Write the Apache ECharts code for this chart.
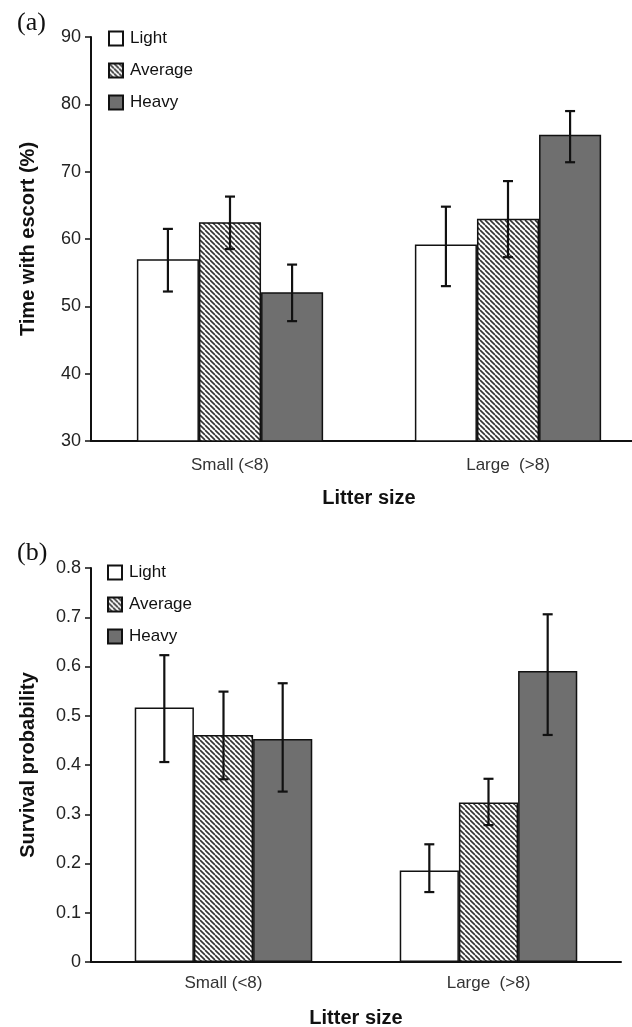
<!DOCTYPE html>
<html>
<head>
<meta charset="utf-8">
<script src="https://cdn.jsdelivr.net/npm/echarts@6/dist/echarts.min.js"></script>
<style>
  html, body { margin: 0; padding: 0; background: #fff; overflow: hidden; }
  #chart { width: 632px; height: 1027px; }
</style>
</head>
<body>
<div id="chart"></div>
<script>
// categories and groups
var categories = ['Small (<8)', 'Large  (>8)'];
var groups = ['Light', 'Average', 'Heavy'];

// (a) time with escort (%), per group: [small, large]
var escortMean = [[57.0, 59.2], [62.5, 63.0], [52.1, 75.5]];
var escortLow  = [[52.2, 53.0], [58.5, 57.3], [47.8, 71.4]];
var escortHigh = [[61.5, 64.8], [66.3, 68.6], [56.2, 79.0]];

// (b) survival probability, per group: [small, large]
var survMean = [[0.517, 0.186], [0.461, 0.324], [0.453, 0.591]];
var survLow  = [[0.406, 0.142], [0.371, 0.278], [0.346, 0.461]];
var survHigh = [[0.623, 0.239], [0.549, 0.372], [0.566, 0.706]];

var escortTicks = [30, 90, 10];
var survTicks = [0, 0.8, 0.1];

// hatch pattern for "Average"
function makeHatch() {
    var s = 5;
    var c = document.createElement('canvas');
    c.width = s; c.height = s;
    var ctx = c.getContext('2d');
    ctx.fillStyle = '#ffffff';
    ctx.fillRect(0, 0, s, s);
    ctx.strokeStyle = '#333333';
    ctx.lineWidth = 1.6;
    ctx.beginPath();
    [-s, 0, s].forEach(function (k) {
        ctx.moveTo(k, 0);
        ctx.lineTo(k + s, s);
    });
    ctx.stroke();
    return c;
}

var fills = ['#ffffff', { image: makeHatch(), repeat: 'repeat' }, '#6f6f6f'];
var font = 'Liberation Sans, Arial, sans-serif';

function barSeries(means, axisIdx) {
    return groups.map(function (g, i) {
        return {
            name: g,
            type: 'bar',
            xAxisIndex: axisIdx,
            yAxisIndex: axisIdx,
            barGap: '0%',
            barCategoryGap: '33%',
            itemStyle: { color: fills[i], borderColor: '#111', borderWidth: 1.5 },
            data: means[i],
            z: 2
        };
    });
}

function errSeries(low, high, axisIdx, gapRatio) {
    var data = [];
    for (var i = 0; i < groups.length; i++) {
        for (var j = 0; j < categories.length; j++) {
            data.push([j, low[i][j], high[i][j], i]);
        }
    }
    return {
        type: 'custom',
        xAxisIndex: axisIdx,
        yAxisIndex: axisIdx,
        silent: true,
        z: 5,
        data: data,
        encode: { x: 0, y: [1, 2] },
        renderItem: function (params, api) {
            var cat = api.value(0);
            var idx = api.value(3);
            var catW = api.size([1, 0])[0];
            var barW = catW * (1 - gapRatio) / 3;
            var lo = api.coord([cat, api.value(1)]);
            var hi = api.coord([cat, api.value(2)]);
            var x = lo[0] + (idx - 1) * barW;
            var cap = 5;
            var st = { stroke: '#111', lineWidth: 2.2 };
            return {
                type: 'group',
                children: [
                    { type: 'line', shape: { x1: x, y1: hi[1], x2: x, y2: lo[1] }, style: st },
                    { type: 'line', shape: { x1: x - cap, y1: hi[1], x2: x + cap, y2: hi[1] }, style: st },
                    { type: 'line', shape: { x1: x - cap, y1: lo[1], x2: x + cap, y2: lo[1] }, style: st }
                ]
            };
        }
    };
}

function xAxis(idx, margin, gap) {
    return {
        type: 'category',
        gridIndex: idx,
        data: categories,
        name: 'Litter size',
        nameLocation: 'middle',
        nameGap: gap,
        nameTextStyle: { fontFamily: font, fontWeight: 'bold', fontSize: 20, color: '#111' },
        axisLine: { lineStyle: { color: '#111', width: 2 } },
        axisTick: { length: 5, lineStyle: { color: '#111', width: 2 } },
        axisLabel: { margin: margin, fontFamily: font, fontSize: 17, color: '#333' }
    };
}

function yAxis(idx, ticks, name) {
    return {
        type: 'value',
        gridIndex: idx,
        min: ticks[0],
        max: ticks[1],
        interval: ticks[2],
        name: name,
        nameLocation: 'middle',
        nameGap: 53,
        nameTextStyle: { fontFamily: font, fontWeight: 'bold', fontSize: 20, color: '#111' },
        splitLine: { show: false },
        axisLine: { show: true, lineStyle: { color: '#111', width: 2 } },
        axisTick: { show: true, length: 6, lineStyle: { color: '#111', width: 1.5 } },
        axisLabel: { margin: 10, fontFamily: font, fontSize: 18, color: '#222' }
    };
}

function legend(left, top) {
    return {
        orient: 'vertical',
        left: left,
        top: top,
        itemWidth: 14,
        itemHeight: 14,
        itemGap: 15,
        icon: 'rect',
        data: groups,
        selectedMode: false,
        textStyle: { fontFamily: font, fontSize: 17, color: '#111', padding: [0, 0, 0, 2] }
    };
}

var chart = echarts.init(document.getElementById('chart'));
var option = {
    animation: false,
    backgroundColor: '#fff',
    title: [
        { text: '(a)', left: 12, top: 5, textStyle: { fontFamily: 'Liberation Serif, Times New Roman, serif', fontWeight: 'normal', fontSize: 26, color: '#111' } },
        { text: '(b)', left: 12, top: 535, textStyle: { fontFamily: 'Liberation Serif, Times New Roman, serif', fontWeight: 'normal', fontSize: 26, color: '#111' } }
    ],
    legend: [legend(103, 25), legend(102, 559)],
    grid: [
        { left: 91, top: 37, width: 556, height: 404, outerBoundsMode: 'none' },
        { left: 91, top: 568, width: 530, height: 394, outerBoundsMode: 'none' }
    ],
    xAxis: [xAxis(0, 16, 47), xAxis(1, 13, 46)],
    yAxis: [
        yAxis(0, escortTicks, 'Time with escort (%)'),
        yAxis(1, survTicks, 'Survival probability')
    ],
    series: []
        .concat(barSeries(escortMean, 0))
        .concat(barSeries(survMean, 1))
        .concat([errSeries(escortLow, escortHigh, 0, 0.33), errSeries(survLow, survHigh, 1, 0.33)])
};
chart.setOption(option);
</script>
</body>
</html>
